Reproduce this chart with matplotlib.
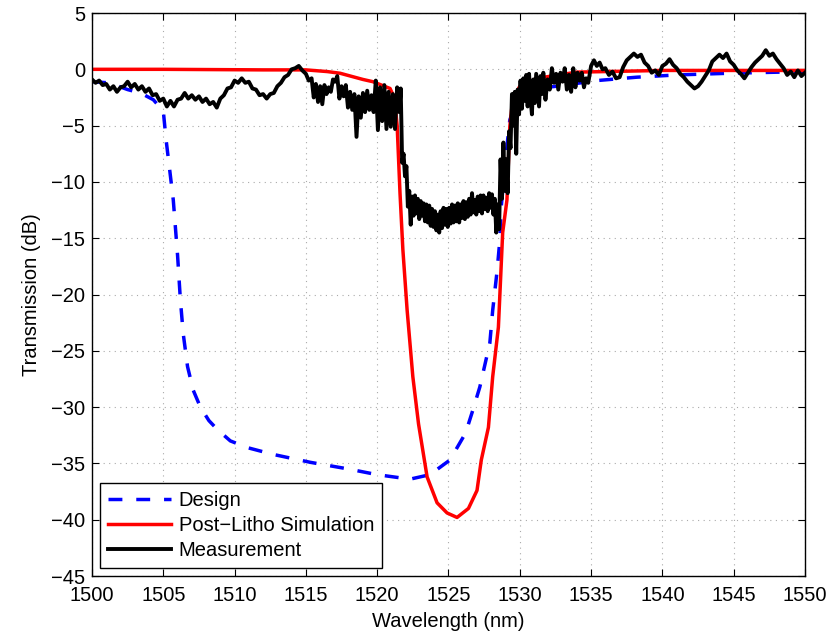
import numpy as np
import matplotlib.pyplot as plt

plt.rcParams['font.family'] = ['Liberation Sans', 'DejaVu Sans']
plt.rcParams['font.size'] = 14.5

# Design curve (wavelength nm, transmission dB)
design_wl = [1500.0, 1501.2, 1502.5, 1503.4, 1504.3, 1505.0, 1505.2, 1505.7, 1506.0,
             1506.2, 1506.4, 1506.7, 1507.1, 1507.6, 1508.2, 1508.8, 1509.7, 1510.9,
             1512.7, 1515.3, 1518.0, 1520.0, 1522.3, 1523.7, 1525.1, 1526.2, 1526.7,
             1527.2, 1527.9, 1528.1, 1528.4, 1528.6, 1528.7, 1529.0, 1529.3, 1529.8,
             1530.5, 1532.6, 1535.4, 1538.2, 1541.0, 1544.7, 1550.0]
design_db = [-1.1, -1.2, -1.8, -2.1, -2.7, -3.7, -6.3, -11.6, -16.5,
             -20.5, -23.5, -26.4, -28.5, -30.0, -31.2, -32.0, -33.0, -33.6,
             -34.2, -34.9, -35.5, -36.0, -36.4, -36.0, -34.7, -32.3, -30.3,
             -28.2, -24.3, -21.4, -18.0, -15.2, -12.2, -8.0, -4.5, -2.7,
             -1.8, -1.5, -1.0, -0.7, -0.5, -0.35, -0.2]

# Post-litho simulation
sim_wl = [1500.0, 1505.0, 1512.0, 1515.0, 1516.5, 1517.4, 1519.0, 1519.7, 1520.9,
          1521.2, 1521.4, 1521.6, 1521.8, 1522.1, 1522.5, 1522.9, 1523.5, 1524.2,
          1524.9, 1525.6, 1526.4, 1527.0, 1527.3, 1527.8, 1528.1, 1528.5, 1528.8,
          1529.1, 1529.3, 1529.5, 1530.0, 1531.2, 1534.0, 1540.0, 1550.0]
sim_db = [0.0, 0.0, -0.05, -0.05, -0.2, -0.35, -0.9, -1.1, -1.7,
          -2.5, -5.0, -11.0, -16.0, -21.4, -27.3, -31.5, -36.2, -38.5,
          -39.4, -39.8, -39.0, -37.4, -34.7, -31.8, -27.3, -22.9, -14.5,
          -11.6, -5.1, -2.7, -1.5, -0.8, -0.25, -0.1, -0.1]

# Measured transmission
meas_wl = [
    1500.00, 1500.25, 1500.50, 1500.75, 1501.00, 1501.25, 1501.50, 1501.75,
    1502.00, 1502.25, 1502.50, 1502.75, 1503.00, 1503.25, 1503.50, 1503.75,
    1504.00, 1504.25, 1504.50, 1504.75, 1505.00, 1505.25, 1505.50, 1505.75,
    1506.00, 1506.25, 1506.50, 1506.75, 1507.00, 1507.25, 1507.50, 1507.75,
    1508.00, 1508.25, 1508.50, 1508.75, 1509.00, 1509.25, 1509.50, 1509.75,
    1510.00, 1510.25, 1510.50, 1510.75, 1511.00, 1511.25, 1511.50, 1511.75,
    1512.00, 1512.25, 1512.50, 1512.75, 1513.00, 1513.25, 1513.50, 1513.75,
    1514.00, 1514.25, 1514.50, 1514.75, 1515.00, 1515.20, 1515.40, 1515.55,
    1515.70, 1515.85, 1516.00, 1516.15, 1516.30, 1516.45, 1516.60, 1516.75,
    1516.90, 1517.05, 1517.20, 1517.35, 1517.50, 1517.65, 1517.80, 1517.95,
    1518.10, 1518.25, 1518.40, 1518.55, 1518.70, 1518.85, 1519.00, 1519.15,
    1519.30, 1519.45, 1519.60, 1519.75, 1519.90, 1520.05, 1520.20, 1520.35,
    1520.50, 1520.65, 1520.80, 1520.95, 1521.10, 1521.25, 1521.40, 1521.55,
    1521.65, 1521.75, 1521.85, 1521.95, 1522.05, 1522.15, 1522.25, 1522.35,
    1522.45, 1522.55, 1522.65, 1522.75, 1522.85, 1522.95, 1523.05, 1523.15,
    1523.25, 1523.35, 1523.45, 1523.55, 1523.65, 1523.75, 1523.85, 1523.95,
    1524.05, 1524.15, 1524.25, 1524.35, 1524.45, 1524.55, 1524.65, 1524.75,
    1524.85, 1524.95, 1525.05, 1525.15, 1525.25, 1525.35, 1525.45, 1525.55,
    1525.65, 1525.75, 1525.85, 1525.95, 1526.05, 1526.15, 1526.25, 1526.35,
    1526.45, 1526.55, 1526.65, 1526.75, 1526.85, 1526.95, 1527.05, 1527.15,
    1527.25, 1527.35, 1527.45, 1527.55, 1527.65, 1527.75, 1527.85, 1527.95,
    1528.05, 1528.15, 1528.25, 1528.35, 1528.45, 1528.55, 1528.65, 1528.75,
    1528.85, 1528.95, 1529.05, 1529.15, 1529.25, 1529.35, 1529.45, 1529.55,
    1529.65, 1529.75, 1529.85, 1529.95, 1530.05, 1530.15, 1530.25, 1530.35,
    1530.45, 1530.55, 1530.65, 1530.75, 1530.85, 1530.95, 1531.05, 1531.15,
    1531.25, 1531.35, 1531.45, 1531.55, 1531.65, 1531.80, 1531.95, 1532.10,
    1532.25, 1532.40, 1532.55, 1532.70, 1532.85, 1533.00, 1533.15, 1533.30,
    1533.45, 1533.60, 1533.75, 1533.90, 1534.05, 1534.20, 1534.35, 1534.50,
    1534.65, 1534.80, 1535.00, 1535.20, 1535.40, 1535.60, 1535.80, 1536.00,
    1536.25, 1536.50, 1536.75, 1537.00, 1537.25, 1537.50, 1537.75, 1538.00,
    1538.25, 1538.50, 1538.75, 1539.00, 1539.25, 1539.50, 1539.75, 1540.00,
    1540.25, 1540.50, 1540.75, 1541.00, 1541.25, 1541.50, 1541.75, 1542.00,
    1542.25, 1542.50, 1542.75, 1543.00, 1543.25, 1543.50, 1543.75, 1544.00,
    1544.25, 1544.50, 1544.75, 1545.00, 1545.25, 1545.50, 1545.75, 1546.00,
    1546.25, 1546.50, 1546.75, 1547.00, 1547.25, 1547.50, 1547.75, 1548.00,
    1548.25, 1548.50, 1548.75, 1549.00, 1549.25, 1549.50, 1549.75, 1550.00]
meas_db = [
    -0.9, -1.2, -1.0, -1.4, -1.3, -1.8, -1.5, -2.0,
    -1.6, -1.5, -1.1, -1.6, -1.3, -1.8, -1.5, -2.0,
    -1.7, -2.3, -2.2, -2.8, -2.6, -3.3, -2.8, -3.3,
    -2.7, -2.6, -2.1, -2.6, -2.3, -2.7, -2.4, -2.9,
    -2.6, -3.1, -2.9, -3.4, -2.6, -2.3, -1.7, -1.6,
    -1.0, -1.2, -0.8, -1.2, -1.1, -1.7, -1.8, -2.3,
    -2.2, -2.6, -2.2, -2.1, -1.5, -1.2, -0.7, -0.5,
    0.0, 0.1, 0.3, -0.1, -0.4, -1.0, -0.8, -2.5,
    -1.3, -2.9, -1.5, -3.1, -1.4, -2.2, -1.6, -2.0,
    -0.9, -1.1, -0.6, -2.6, -1.5, -2.4, -1.4, -3.4,
    -2.0, -3.6, -2.2, -6.0, -2.4, -4.3, -2.1, -3.8,
    -1.9, -3.6, -2.3, -3.8, -1.0, -5.4, -1.6, -4.6,
    -1.4, -5.3, -2.0, -5.1, -2.2, -5.3, -1.6, -3.8,
    -1.7, -8.3, -7.5, -9.5, -8.6, -12.2, -10.8, -13.8,
    -11.3, -13.0, -11.2, -12.8, -11.5, -13.3, -11.7, -13.0,
    -11.9, -13.5, -12.0, -13.6, -12.1, -13.9, -12.4, -14.0,
    -12.6, -14.3, -12.9, -14.5, -12.6, -14.1, -12.3, -13.8,
    -12.4, -14.0, -12.3, -13.7, -12.0, -13.6, -12.1, -13.5,
    -11.9, -13.6, -12.0, -13.2, -11.7, -13.3, -11.8, -13.1,
    -11.5, -12.9, -11.0, -12.7, -11.6, -12.9, -11.3, -12.6,
    -11.2, -12.8, -11.2, -12.4, -11.4, -12.6, -11.0, -12.3,
    -11.1, -12.9, -11.5, -14.5, -12.0, -14.2, -8.0, -11.5,
    -6.5, -10.8, -8.0, -11.0, -5.5, -7.0, -2.2, -5.0,
    -2.0, -7.5, -1.8, -4.0, -1.0, -3.5, -0.8, -2.8,
    -0.5, -3.3, -0.4, -2.5, -4.0, -0.9, -3.0, -0.4,
    -1.9, -3.3, -0.6, -2.2, -0.3, -2.7, -0.9, -1.8,
    0.1, -1.2, -0.4, -1.8, -0.3, -1.1, 0.1, -1.8,
    -0.5, -2.0, 0.1, -1.6, -0.3, -1.0, -0.3, -1.6,
    -0.8, -1.2, 0.3, 0.8, 0.3, 0.6, 0.0, 0.1,
    -0.5, -0.2, -0.8, -0.7, 0.2, 0.8, 1.1, 1.4,
    1.1, 1.3, 0.6, 0.3, -0.3, -0.1, -0.5, 0.3,
    0.5, 0.9, 0.4, 0.1, -0.4, -0.7, -1.1, -1.4,
    -1.7, -1.5, -1.1, -0.6, -0.1, 0.7, 1.0, 1.3,
    1.0, 1.4, 0.7, 0.4, -0.1, -0.4, -0.8, -0.3,
    0.2, 0.6, 0.9, 1.2, 1.7, 1.2, 1.4, 0.9,
    0.5, 0.1, -0.5, -0.2, -0.7, -0.1, -0.6, -0.3]

fig = plt.figure(figsize=(8.31, 6.32), dpi=100)
ax = fig.add_axes([0.1107, 0.0886, 0.858, 0.8908])

ax.plot(design_wl, design_db, color='#0000ff', lw=2.5, linestyle=(0, (4, 4)), label='Design')
ax.plot(sim_wl, sim_db, color='#ff0000', lw=2.5, label='Post\u2212Litho Simulation')
ax.plot(meas_wl, meas_db, color='black', lw=2.8, label='Measurement')

ax.set_xlim(1500, 1550)
ax.set_ylim(-45, 5)
ax.set_xticks(np.arange(1500, 1551, 5))
ax.set_yticks(np.arange(-45, 6, 5))
ax.tick_params(direction='in', top=True, right=True, length=5, width=0.8)
ax.tick_params(axis='x', pad=7)
ax.tick_params(axis='y', pad=5)
ax.grid(True, color='#aaaaaa', linestyle=(0, (1, 4)), linewidth=0.8)
for sp in ax.spines.values():
    sp.set_linewidth(1.0)

ax.set_xlabel('Wavelength (nm)', labelpad=5)
ax.set_ylabel('Transmission (dB)', labelpad=7)

leg = ax.legend(loc='lower left', handlelength=3.1, handletextpad=0.4,
                borderaxespad=0.4, borderpad=0.4, labelspacing=0.3,
                fancybox=False, framealpha=1)
leg.get_frame().set_edgecolor('black')
leg.get_frame().set_linewidth(1.0)

fig.savefig('out.png', dpi=100)
